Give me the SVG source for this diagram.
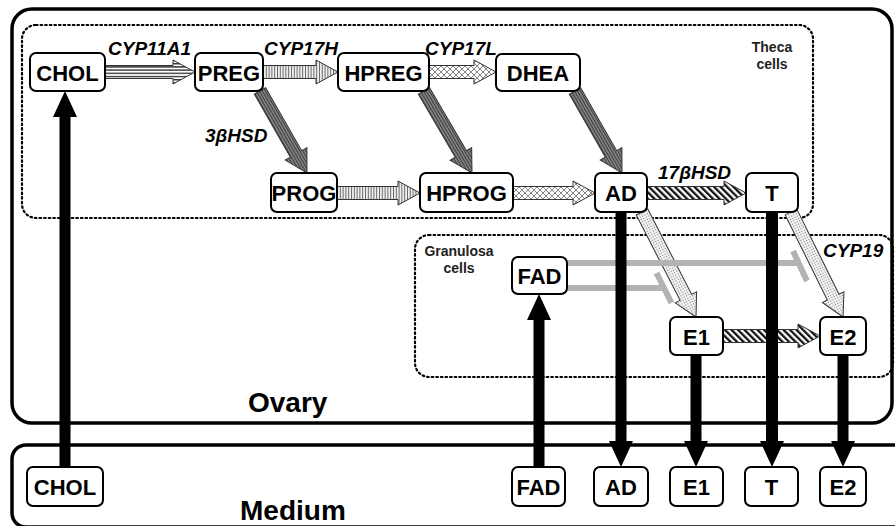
<svg xmlns="http://www.w3.org/2000/svg" width="895" height="526" viewBox="0 0 895 526">
<style>
.box{fill:#fff;stroke:#000;stroke-width:3.5}
.cell{fill:none;stroke:#000;stroke-width:2.2;stroke-dasharray:1.6 3;stroke-linecap:round}
.node rect{fill:#fff;stroke:#000;stroke-width:2}
.lbl{font-family:"Liberation Sans",Arial,sans-serif;font-weight:bold;font-size:22px;text-anchor:middle;fill:#000}
.enz{font-family:"Liberation Sans",Arial,sans-serif;font-weight:bold;font-style:italic;font-size:19px;fill:#000}
.small{font-family:"Liberation Sans",Arial,sans-serif;font-weight:bold;font-size:14px;text-anchor:middle;fill:#222}
.big{font-family:"Liberation Sans",Arial,sans-serif;font-weight:bold;font-size:28px;fill:#000}
.arr{stroke:#333;stroke-width:1;stroke-linejoin:miter}
.blk{fill:#000;stroke:none}
.inh{fill:none;stroke:#b3b3b3;stroke-width:6}
</style>
<defs>
<pattern id="pHoriz" patternUnits="userSpaceOnUse" width="4" height="3.2" y="0.6">
<rect width="4" height="3.2" fill="#fff"/>
<rect y="0" width="4" height="1.4" fill="#333"/>
</pattern>
<pattern id="pVert" patternUnits="userSpaceOnUse" width="2.8" height="4">
<rect width="2.8" height="4" fill="#f2f2f2"/>
<rect width="1" height="4" fill="#666"/>
</pattern>
<pattern id="pCross" patternUnits="userSpaceOnUse" width="6" height="6">
<rect width="6" height="6" fill="#fff"/>
<path d="M0 0L6 6M6 0L0 6" stroke="#777" stroke-width="0.9"/>
</pattern>
<pattern id="pDark" patternUnits="userSpaceOnUse" width="4" height="2.6">
<rect width="4" height="2.6" fill="#8a8a8a"/>
<rect width="4" height="1.1" fill="#3a3a3a"/>
</pattern>
<pattern id="pDiag" patternUnits="userSpaceOnUse" width="4.6" height="4.6" patternTransform="rotate(-45)">
<rect width="4.6" height="4.6" fill="#fff"/>
<rect width="2.3" height="4.6" fill="#111"/>
</pattern>
<pattern id="pDots" patternUnits="userSpaceOnUse" width="2.6" height="2.6">
<rect width="2.6" height="2.6" fill="#f4f4f4"/>
<circle cx="1.3" cy="1.3" r="0.6" fill="#777"/>
</pattern>
</defs>

<g id="compartments">
<rect class="box" x="12" y="9" width="880" height="414" rx="20"/>
<rect class="box" x="12" y="445" width="900" height="82" rx="14"/>
<rect class="cell" x="22" y="25" width="791" height="193" rx="14"/>
<rect class="cell" x="415" y="235" width="478" height="142" rx="14"/>
<text class="small" x="772" y="52">Theca</text>
<text class="small" x="772" y="69">cells</text>
<text class="small" x="459" y="256">Granulosa</text>
<text class="small" x="459" y="273">cells</text>
<text class="big" x="248" y="412">Ovary</text>
<text class="big" x="240" y="520">Medium</text>
</g>

<g id="connectors">
<!-- CHOL -> PREG -->
<polygon class="arr" fill="url(#pHoriz)" transform="translate(105,72)" points="0,-6.5 68,-6.5 68,-12 90,0 68,12 68,6.5 0,6.5"/>
<!-- PREG -> HPREG -->
<polygon class="arr" fill="url(#pVert)" transform="translate(263,72)" points="0,-6.5 53,-6.5 53,-12 75,0 53,12 53,6.5 0,6.5"/>
<!-- HPREG -> DHEA -->
<polygon class="arr" fill="url(#pCross)" transform="translate(429,72)" points="0,-6.5 45,-6.5 45,-12 67,0 45,12 45,6.5 0,6.5"/>
<!-- PREG -> PROG -->
<polygon class="arr" fill="url(#pDark)" transform="translate(260,91) rotate(60.18)" points="0,-6.5 72.5,-6.5 72.5,-12.5 94.5,0 72.5,12.5 72.5,6.5 0,6.5"/>
<!-- HPREG -> HPROG -->
<polygon class="arr" fill="url(#pDark)" transform="translate(424,91) rotate(59.66)" points="0,-6.5 73,-6.5 73,-12.5 95,0 73,12.5 73,6.5 0,6.5"/>
<!-- DHEA -> AD -->
<polygon class="arr" fill="url(#pDark)" transform="translate(575,91) rotate(60.18)" points="0,-6.5 72.5,-6.5 72.5,-12.5 94.5,0 72.5,12.5 72.5,6.5 0,6.5"/>
<!-- PROG -> HPROG -->
<polygon class="arr" fill="url(#pVert)" transform="translate(337,193)" points="0,-6.5 61,-6.5 61,-12 83,0 61,12 61,6.5 0,6.5"/>
<!-- HPROG -> AD -->
<polygon class="arr" fill="url(#pCross)" transform="translate(513,193)" points="0,-6.5 60,-6.5 60,-12 82,0 60,12 60,6.5 0,6.5"/>
<!-- AD -> T -->
<polygon class="arr" fill="url(#pDiag)" transform="translate(647,193)" points="0,-6.5 77,-6.5 77,-12 99,0 77,12 77,6.5 0,6.5"/>
<!-- AD -> E1 -->
<polygon class="arr" fill="url(#pDots)" transform="translate(642,212) rotate(62.78)" points="0,-6.5 96,-6.5 96,-12 118.1,0 96,12 96,6.5 0,6.5"/>
<!-- T -> E2 -->
<polygon class="arr" fill="url(#pDots)" transform="translate(791,212) rotate(63.65)" points="0,-6.5 95,-6.5 95,-12 117.2,0 95,12 95,6.5 0,6.5"/>
<!-- E1 -> E2 -->
<polygon class="arr" fill="url(#pDiag)" transform="translate(723,336)" points="0,-6.5 75,-6.5 75,-12 97,0 75,12 75,6.5 0,6.5"/>

<!-- FAD inhibition -->
<path class="inh" d="M567 263H800M793 251L807 281"/>
<path class="inh" d="M567 288H664M656.5 273L671.5 303"/>

<!-- transport arrows -->
<polygon class="blk" points="59.5,467 59.5,117 53,117 65,91 77,117 70.5,117 70.5,467"/>
<polygon class="blk" points="533.5,467 533.5,320 527,320 539,294 551,320 544.5,320 544.5,467"/>
<polygon class="blk" points="615.5,212 615.5,441 609,441 621,467 633,441 626.5,441 626.5,212"/>
<polygon class="blk" points="690.5,355 690.5,441 684,441 696,467 708,441 701.5,441 701.5,355"/>
<polygon class="blk" points="766,212 766,441 760,441 772,467 784,441 778,441 778,212"/>
<polygon class="blk" points="837.5,355 837.5,441 831,441 843,467 855,441 848.5,441 848.5,355"/>
</g>

<g id="enzymes">
<text class="enz" x="108" y="55">CYP11A1</text>
<text class="enz" x="264" y="55">CYP17H</text>
<text class="enz" x="425" y="55">CYP17L</text>
<text class="enz" x="205" y="142">3βHSD</text>
<text class="enz" x="658" y="179">17βHSD</text>
<text class="enz" x="823" y="257">CYP19</text>
</g>

<g id="n-CHOL" class="node"><rect x="30" y="53" width="75" height="38" rx="6"/><text class="lbl" x="67.5" y="80.5">CHOL</text></g>
<g id="n-PREG" class="node"><rect x="195" y="53" width="68" height="38" rx="6"/><text class="lbl" x="229" y="80.5">PREG</text></g>
<g id="n-HPREG" class="node"><rect x="338" y="53" width="91" height="38" rx="6"/><text class="lbl" x="383.5" y="80.5">HPREG</text></g>
<g id="n-DHEA" class="node"><rect x="496" y="54" width="84" height="37" rx="6"/><text class="lbl" x="538" y="80.5">DHEA</text></g>
<g id="n-PROG" class="node"><rect x="271" y="173" width="66" height="39" rx="6"/><text class="lbl" x="304" y="201">PROG</text></g>
<g id="n-HPROG" class="node"><rect x="420" y="173" width="93" height="39" rx="6"/><text class="lbl" x="466.5" y="201">HPROG</text></g>
<g id="n-AD" class="node"><rect x="595" y="173" width="52" height="39" rx="6"/><text class="lbl" x="621" y="201">AD</text></g>
<g id="n-T" class="node"><rect x="746" y="173" width="52" height="39" rx="6"/><text class="lbl" x="772" y="201">T</text></g>
<g id="n-FAD" class="node"><rect x="512" y="257" width="55" height="37" rx="6"/><text class="lbl" x="539.5" y="283.5">FAD</text></g>
<g id="n-E1" class="node"><rect x="670" y="317" width="53" height="38" rx="6"/><text class="lbl" x="696.5" y="344.5">E1</text></g>
<g id="n-E2" class="node"><rect x="820" y="317" width="46" height="38" rx="6"/><text class="lbl" x="843" y="344.5">E2</text></g>

<g id="m-CHOL" class="node"><rect x="27" y="467" width="76" height="39" rx="6"/><text class="lbl" x="65" y="495">CHOL</text></g>
<g id="m-FAD" class="node"><rect x="512" y="467" width="53" height="39" rx="6"/><text class="lbl" x="538.5" y="495">FAD</text></g>
<g id="m-AD" class="node"><rect x="594" y="467" width="54" height="39" rx="6"/><text class="lbl" x="621" y="495">AD</text></g>
<g id="m-E1" class="node"><rect x="670" y="467" width="53" height="39" rx="6"/><text class="lbl" x="696.5" y="495">E1</text></g>
<g id="m-T" class="node"><rect x="745" y="467" width="53" height="39" rx="6"/><text class="lbl" x="771.5" y="495">T</text></g>
<g id="m-E2" class="node"><rect x="820" y="467" width="46" height="39" rx="6"/><text class="lbl" x="843" y="495">E2</text></g>
</svg>
